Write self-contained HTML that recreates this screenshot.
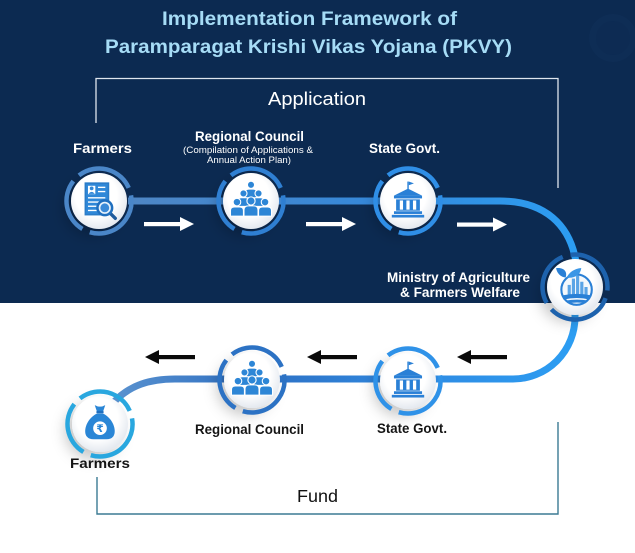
<!DOCTYPE html>
<html><head><meta charset="utf-8"><style>
html,body{margin:0;padding:0;background:#fff;}
svg{display:block;}
text{font-family:"Liberation Sans",Arial,sans-serif;}
</style></head><body>
<svg width="635" height="553" viewBox="0 0 635 553" xmlns="http://www.w3.org/2000/svg">
<defs>
 <linearGradient id="gTop" gradientUnits="userSpaceOnUse" x1="128" y1="0" x2="580" y2="0">
  <stop offset="0" stop-color="#4f86c4"/><stop offset="0.55" stop-color="#3588da"/><stop offset="1" stop-color="#2c9ef3"/>
 </linearGradient>
 <linearGradient id="gBot" gradientUnits="userSpaceOnUse" x1="580" y1="0" x2="110" y2="0">
  <stop offset="0" stop-color="#2c9ef3"/><stop offset="0.35" stop-color="#2f8ae2"/><stop offset="0.7" stop-color="#2e6fc2"/><stop offset="1" stop-color="#5b93cf"/>
 </linearGradient>
 <radialGradient id="gWhite" cx="0.45" cy="0.4" r="0.62">
  <stop offset="0.6" stop-color="#ffffff"/><stop offset="1" stop-color="#e2e7ee"/>
 </radialGradient>
 <filter id="sh" x="-80%" y="-80%" width="260%" height="260%">
  <feDropShadow dx="-7" dy="7" stdDeviation="7" flood-color="#000" flood-opacity="0.22"/>
 </filter>

 <g id="iDoc">
  <rect x="-13" y="-17" width="22" height="30" fill="#2f88d8" stroke="#2a7cc8" stroke-width="1.5"/>
  <rect x="-10.5" y="-14.5" width="7" height="8" fill="#fff"/>
  <circle cx="-7" cy="-12" r="1.8" fill="#2f88d8"/>
  <path d="M-10 -6.8 Q-7 -10.5 -4 -6.8 Z" fill="#2f88d8"/>
  <g stroke="#ffffff" stroke-width="1.3">
   <line x1="-1" y1="-13" x2="6" y2="-13"/>
   <line x1="-1" y1="-9" x2="6" y2="-9"/>
   <line x1="-10.5" y1="-3" x2="6" y2="-3"/>
   <line x1="-10.5" y1="1" x2="1" y2="1"/>
   <line x1="-10.5" y1="5" x2="-1" y2="5"/>
   <line x1="-10.5" y1="9" x2="-1" y2="9"/>
  </g>
  <line x1="10" y1="11" x2="15.5" y2="16.5" stroke="#1d5a9c" stroke-width="3.2" stroke-linecap="round"/>
  <circle cx="5.5" cy="6.5" r="7" fill="#e8f2fb" stroke="#1f6fbf" stroke-width="2.4"/>
  <circle cx="5.5" cy="6.5" r="4.2" fill="#3a8ad8"/>
 </g>

 <g id="iPeople" fill="#2d86d6" stroke="#fff" stroke-width="1">
  <circle cx="0" cy="-15" r="3.3"/>
  <path d="M-5.5 -3 V-7.5 Q-5.5 -11 -2 -11 H2 Q5.5 -11 5.5 -7.5 V-3 Z"/>
  <circle cx="-7" cy="-7" r="3.3"/>
  <path d="M-12.5 5 V0.5 Q-12.5 -3 -9 -3 H-5 Q-1.5 -3 -1.5 0.5 V5 Z"/>
  <circle cx="7" cy="-7" r="3.3"/>
  <path d="M1.5 5 V0.5 Q1.5 -3 5 -3 H9 Q12.5 -3 12.5 0.5 V5 Z"/>
  <circle cx="-13" cy="1" r="3.5"/>
  <path d="M-19 14 V9 Q-19 5.5 -15.5 5.5 H-10.5 Q-7 5.5 -7 9 V14 Z"/>
  <circle cx="13" cy="1" r="3.5"/>
  <path d="M7 14 V9 Q7 5.5 10.5 5.5 H15.5 Q19 5.5 19 9 V14 Z"/>
  <circle cx="0" cy="0" r="3.8"/>
  <path d="M-6.5 14 V8.5 Q-6.5 4.5 -2.5 4.5 H2.5 Q6.5 4.5 6.5 8.5 V14 Z"/>
 </g>

 <g id="iBank" fill="#2a80d6">
  <rect x="-0.6" y="-18" width="1.3" height="7"/>
  <path d="M0.7 -18 L5.5 -16.3 L0.7 -14.6 Z"/>
  <path d="M-13 -5 L0 -11.5 L13 -5 Z"/>
  <rect x="-13" y="-5" width="26" height="2.6"/>
  <rect x="-11" y="-1.5" width="22" height="10.5"/>
  <rect x="-7.6" y="-0.5" width="3" height="8.5" fill="#fff"/>
  <rect x="-1.5" y="-0.5" width="3" height="8.5" fill="#fff"/>
  <rect x="4.6" y="-0.5" width="3" height="8.5" fill="#fff"/>
  <rect x="-13" y="9.5" width="26" height="2.5"/>
  <rect x="-15" y="12.8" width="30" height="2.5"/>
 </g>

 <g id="iMin">
  <circle cx="1.5" cy="2.5" r="14.5" fill="#f4f8fc" stroke="#2a80d6" stroke-width="2"/>
  <path d="M-9 -9 C-17 -10 -18 -18 -18 -18 C-10 -19 -7 -14 -9 -9 Z" fill="#2a80d6"/>
  <path d="M-8 -9 C-4 -17 4 -18 6 -18 C5 -11 -1 -8 -8 -9 Z" fill="#3a96e6"/>
  <g fill="#5aa4e6">
   <rect x="-7" y="-2" width="3" height="10"/>
   <rect x="-3" y="-8" width="3" height="16"/>
   <rect x="1" y="-11" width="3" height="19"/>
   <rect x="5" y="-5" width="3" height="13"/>
   <rect x="9" y="0" width="3" height="8"/>
  </g>
  <path d="M-12 8 Q2 5 15.5 8 L14 12 Q2 9 -11 12 Z" fill="#2a80d6"/>
  <path d="M-9 13 Q2 11 13 13 L10 15.5 Q2 14 -6 15.5 Z" fill="#2a80d6"/>
 </g>

 <g id="iBag">
  <path d="M-5 -18 Q0 -15 5 -18 L3 -12 L-3 -12 Z" fill="#2a86d6"/>
  <rect x="-3.5" y="-12.5" width="7" height="2.3" rx="1" fill="#1f6fbf"/>
  <path d="M-3 -10 C-14 -4 -16 8 -12.5 12 Q-10.5 14.5 -6 14.5 H6 Q10.5 14.5 12.5 12 C16 8 14 -4 3 -10 Z" fill="#2a86d6"/>
  <circle cx="0" cy="4" r="6.5" fill="#fff"/>
  <text x="0" y="7.8" text-anchor="middle" font-size="10" font-weight="bold" fill="#2a86d6" style="font-family:'DejaVu Sans',sans-serif">₹</text>
 </g>
</defs>

<!-- backgrounds -->
<rect x="0" y="0" width="635" height="303" fill="#0c2a51"/>
<rect x="0" y="303" width="635" height="250" fill="#ffffff"/>
<circle cx="613" cy="38" r="24" fill="#0e2d55"/>
<circle cx="613" cy="38" r="17" fill="#0d2b53"/>

<!-- title -->
<text x="162" y="25" font-size="19" font-weight="bold" fill="#a6dcf6" textLength="295" lengthAdjust="spacingAndGlyphs">Implementation Framework of</text>
<text x="105" y="53" font-size="19" font-weight="bold" fill="#a6dcf6" textLength="407" lengthAdjust="spacingAndGlyphs">Paramparagat Krishi Vikas Yojana (PKVY)</text>

<!-- application box -->
<path d="M96 123 V78.5 H558 V188" fill="none" stroke="#dfe5ee" stroke-width="1.3"/>
<text x="268" y="105" font-size="18" fill="#ffffff" textLength="98" lengthAdjust="spacingAndGlyphs">Application</text>

<!-- fund box -->
<path d="M97 477 V514 H558 V422" fill="none" stroke="#3b7a93" stroke-width="1.4"/>
<text x="297" y="502" font-size="17.5" fill="#111111" textLength="41" lengthAdjust="spacingAndGlyphs">Fund</text>

<!-- connector lines -->
<path d="M128 201 H500 C545 201 570 225 576 262" fill="none" stroke="url(#gTop)" stroke-width="7"/>
<path d="M575 310 V317 A62 62 0 0 1 513 379 H175 C150 379 130 385 114 402" fill="none" stroke="url(#gBot)" stroke-width="7"/>

<!-- top labels -->
<text x="73" y="153" font-size="14" font-weight="bold" fill="#ffffff" textLength="59" lengthAdjust="spacingAndGlyphs">Farmers</text>
<text x="195" y="141" font-size="13.5" font-weight="bold" fill="#ffffff" textLength="109" lengthAdjust="spacingAndGlyphs">Regional Council</text>
<text x="183" y="153" font-size="9.5" fill="#ffffff" textLength="130" lengthAdjust="spacingAndGlyphs">(Compilation of Applications &amp;</text>
<text x="207" y="163" font-size="9.5" fill="#ffffff" textLength="84" lengthAdjust="spacingAndGlyphs">Annual Action Plan)</text>
<text x="369" y="153" font-size="14" font-weight="bold" fill="#ffffff" textLength="71" lengthAdjust="spacingAndGlyphs">State Govt.</text>
<text x="387" y="282" font-size="14" font-weight="bold" fill="#ffffff" textLength="143" lengthAdjust="spacingAndGlyphs">Ministry of Agriculture</text>
<text x="400" y="297" font-size="14" font-weight="bold" fill="#ffffff" textLength="120" lengthAdjust="spacingAndGlyphs">&amp; Farmers Welfare</text>

<!-- bottom labels -->
<text x="195" y="434" font-size="13.5" font-weight="bold" fill="#151515" textLength="109" lengthAdjust="spacingAndGlyphs">Regional Council</text>
<text x="377" y="433" font-size="14" font-weight="bold" fill="#151515" textLength="70" lengthAdjust="spacingAndGlyphs">State Govt.</text>
<text x="70" y="468" font-size="14" font-weight="bold" fill="#151515" textLength="60" lengthAdjust="spacingAndGlyphs">Farmers</text>

<!-- white arrows (right) -->
<g fill="#ffffff">
 <rect x="144" y="222" width="38" height="4.2"/><path d="M180 217 L194 224 L180 231 Z"/>
 <rect x="306" y="222" width="38" height="4.2"/><path d="M342 217 L356 224 L342 231 Z"/>
 <rect x="457" y="222.5" width="38" height="4.2"/><path d="M493 217.5 L507 224.5 L493 231.5 Z"/>
</g>
<!-- black arrows (left) -->
<g fill="#0a0a0a">
 <path d="M145 357 L159 350 L159 364 Z"/><rect x="157" y="355" width="38" height="4.2"/>
 <path d="M307 357 L321 350 L321 364 Z"/><rect x="319" y="355" width="38" height="4.2"/>
 <path d="M457 357 L471 350 L471 364 Z"/><rect x="469" y="355" width="38" height="4.2"/>
</g>

<!-- nodes -->
<g transform="translate(99,201)">
 <circle r="28" fill="url(#gWhite)" filter="url(#sh)"/>
 <circle r="32.5" fill="none" stroke="#4a86c8" stroke-width="4.5" stroke-dasharray="66 8 55 8 59 8" transform="rotate(-10)"/>
 <use href="#iDoc" transform="scale(1.05)"/>
</g>
<g transform="translate(251,201)">
 <circle r="28" fill="url(#gWhite)" filter="url(#sh)"/>
 <circle r="32.5" fill="none" stroke="#2f7fd2" stroke-width="4.5" stroke-dasharray="66 8 55 8 59 8" transform="rotate(-10)"/>
 <use href="#iPeople" transform="scale(1.08)"/>
</g>
<g transform="translate(408,201)">
 <circle r="28" fill="url(#gWhite)" filter="url(#sh)"/>
 <circle r="32.5" fill="none" stroke="#2f8ee6" stroke-width="4.5" stroke-dasharray="66 8 55 8 59 8" transform="rotate(-10)"/>
 <use href="#iBank" transform="scale(1.08)"/>
</g>
<g transform="translate(575,287)">
 <circle r="28" fill="url(#gWhite)" filter="url(#sh)"/>
 <circle r="32.5" fill="none" stroke="#1d62ad" stroke-width="4.5" stroke-dasharray="66 8 55 8 59 8" transform="rotate(20)"/>
 <use href="#iMin" transform="scale(1.05)"/>
</g>
<g transform="translate(408,381)">
 <circle r="28" fill="url(#gWhite)" filter="url(#sh)"/>
 <circle r="32.5" fill="none" stroke="#2f92e8" stroke-width="4.5" stroke-dasharray="66 8 55 8 59 8" transform="rotate(-10)"/>
 <use href="#iBank" transform="scale(1.08)"/>
</g>
<g transform="translate(252,380)">
 <circle r="28" fill="url(#gWhite)" filter="url(#sh)"/>
 <circle r="32.5" fill="none" stroke="#2c72c4" stroke-width="4.5" stroke-dasharray="66 8 55 8 59 8" transform="rotate(-10)"/>
 <use href="#iPeople" transform="scale(1.08)"/>
</g>
<g transform="translate(100,424)">
 <circle r="28" fill="url(#gWhite)" filter="url(#sh)"/>
 <circle r="32.5" fill="none" stroke="#29a7df" stroke-width="4.5" stroke-dasharray="66 8 55 8 59 8" transform="rotate(-10)"/>
 <use href="#iBag" transform="scale(1.05)"/>
</g>
</svg>
</body></html>
